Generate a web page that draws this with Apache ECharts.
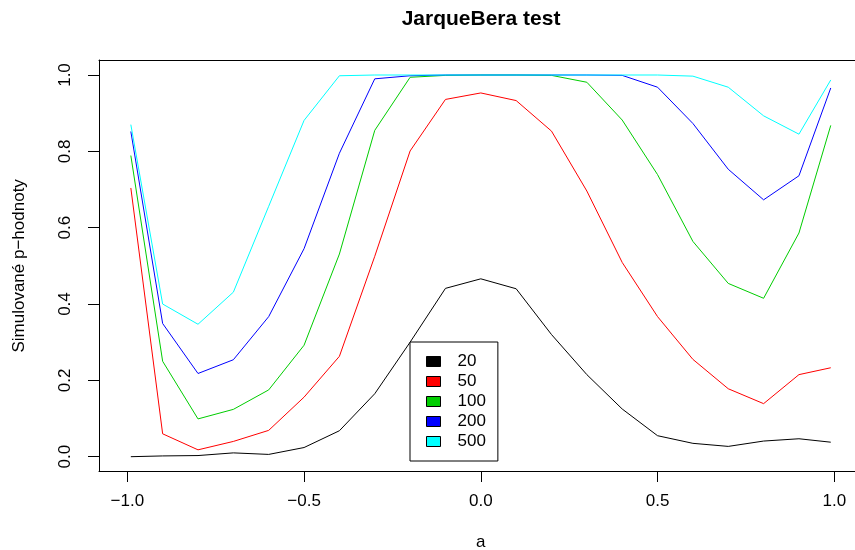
<!DOCTYPE html>
<html>
<head>
<meta charset="utf-8">
<script src="https://cdn.jsdelivr.net/npm/echarts@6/dist/echarts.min.js"></script>
<style>html,body{margin:0;padding:0;background:#fff;}#c{width:855px;height:550px;}</style>
</head>
<body>
<div id="c"></div>
<script>
var aValues = [-0.99, -0.9, -0.8, -0.7, -0.6, -0.5, -0.4, -0.3, -0.2, -0.1, 0, 0.1, 0.2, 0.3, 0.4, 0.5, 0.6, 0.7, 0.8, 0.9, 0.99];
var seriesNames = ['20', '50', '100', '200', '500'];
var p20  = [0.000, 0.002, 0.003, 0.010, 0.006, 0.024, 0.068, 0.165, 0.300, 0.441, 0.466, 0.440, 0.320, 0.215, 0.125, 0.055, 0.035, 0.027, 0.041, 0.047, 0.038];
var p50  = [0.704, 0.060, 0.018, 0.040, 0.069, 0.156, 0.263, 0.525, 0.801, 0.936, 0.953, 0.933, 0.853, 0.696, 0.509, 0.367, 0.255, 0.178, 0.139, 0.215, 0.233];
var p100 = [0.789, 0.250, 0.099, 0.124, 0.175, 0.292, 0.531, 0.855, 0.994, 0.999, 1.000, 1.000, 0.999, 0.981, 0.882, 0.739, 0.564, 0.454, 0.415, 0.586, 0.868];
var p200 = [0.852, 0.349, 0.218, 0.254, 0.367, 0.545, 0.795, 0.990, 0.998, 1.000, 1.000, 1.000, 1.000, 1.000, 0.999, 0.968, 0.873, 0.753, 0.673, 0.736, 0.966];
var p500 = [0.870, 0.400, 0.347, 0.431, 0.656, 0.881, 0.998, 1.000, 1.000, 1.000, 1.000, 1.000, 1.000, 1.000, 1.000, 1.000, 0.997, 0.968, 0.893, 0.845, 0.987];
var xMin = -1, xMax = 1, xStep = 0.5;
var yMin = 0, yMax = 1, yStep = 0.2;
var colors = ['#000000', '#FF0000', '#00CD00', '#0000FF', '#00FFFF'];

var allSeries = [p20, p50, p100, p200, p500];
var FONT = '"Liberation Sans", Arial, Helvetica, sans-serif';
function fmt(v) { return v.toFixed(1).replace('-', '\u2212'); }
var blackLine = {show: true, onZero: false, lineStyle: {color: '#000', width: 1}};
var hiddenLine = {show: false, onZero: false};
var off = {show: false};

var chart = echarts.init(document.getElementById('c'), null, {renderer: 'canvas'});
chart.setOption({
  animation: false,
  backgroundColor: '#fff',
  title: {
    text: 'JarqueBera test',
    left: 481, top: 9, textAlign: 'center', padding: 0,
    textStyle: {fontFamily: FONT, fontSize: 21, fontWeight: 'bold', color: '#000'}
  },
  grid: [
    {left: 127.3, top: 75, width: 707, height: 381.7, outerBoundsMode: 'none', containLabel: false},
    {left: 99, top: 60, right: 0, height: 411, outerBoundsMode: 'none', containLabel: false}
  ],
  legend: {
    orient: 'vertical', left: 410, top: 342,
    padding: [11, 12, 11, 16],
    backgroundColor: '#fff', borderColor: '#000', borderWidth: 1, borderRadius: 0,
    itemWidth: 14, itemHeight: 10, itemGap: 3,
    icon: 'rect',
    itemStyle: {borderColor: '#000', borderWidth: 1},
    textStyle: {fontFamily: FONT, fontSize: 17, color: '#000', padding: [0, 0, 0, 12]},
    data: seriesNames
  },
  xAxis: [
    {
      gridIndex: 0, type: 'value', min: xMin, max: xMax, interval: xStep, offset: 14.3, position: 'bottom',
      name: 'a', nameLocation: 'middle', nameGap: 63,
      nameTextStyle: {fontFamily: FONT, fontSize: 17, color: '#000'},
      axisLine: hiddenLine,
      axisTick: {show: true, inside: false, length: 11, lineStyle: {color: '#000', width: 1}},
      axisLabel: {formatter: fmt, margin: 22, fontFamily: FONT, fontSize: 17, color: '#000', showMinLabel: true, showMaxLabel: true},
      splitLine: off
    },
    {gridIndex: 1, type: 'value', min: 0, max: 1, position: 'bottom', axisLine: blackLine, axisTick: off, axisLabel: off, splitLine: off},
    {gridIndex: 1, type: 'value', min: 0, max: 1, position: 'top', axisLine: blackLine, axisTick: off, axisLabel: off, splitLine: off}
  ],
  yAxis: [
    {
      gridIndex: 0, type: 'value', min: yMin, max: yMax, interval: yStep, offset: 28.3, position: 'left',
      name: 'Simulovan\u00e9 p\u2212hodnoty', nameLocation: 'middle', nameGap: 71, nameRotate: 90,
      nameTextStyle: {fontFamily: FONT, fontSize: 17, color: '#000'},
      axisLine: hiddenLine,
      axisTick: {show: true, inside: false, length: 11, lineStyle: {color: '#000', width: 1}},
      axisLabel: {formatter: fmt, rotate: 90, margin: 25, fontFamily: FONT, fontSize: 17, color: '#000', showMinLabel: true, showMaxLabel: true},
      splitLine: off
    },
    {gridIndex: 1, type: 'value', min: 0, max: 1, position: 'left', axisLine: blackLine, axisTick: off, axisLabel: off, splitLine: off}
  ],
  series: seriesNames.map(function (name, k) {
    return {
      name: name, type: 'line', symbol: 'none', silent: true, clip: false,
      xAxisIndex: 0, yAxisIndex: 0,
      itemStyle: {color: colors[k]},
      lineStyle: {color: colors[k], width: 1},
      data: aValues.map(function (x, i) { return [x, allSeries[k][i]]; })
    };
  })
});
</script>
</body>
</html>
